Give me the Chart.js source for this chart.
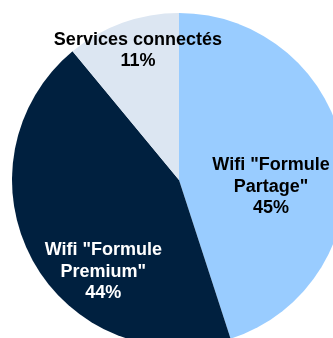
<!DOCTYPE html>
<html>
<head>
<meta charset="utf-8">
<script src="https://cdn.jsdelivr.net/npm/chart.js@4"></script>
<style>
    html, body { margin: 0; padding: 0; background: #fff; overflow: hidden; }
    #wrap { position: absolute; left: 0; top: 0; width: 358px; height: 360px; }
</style>
</head>
<body>
<div id="wrap"><canvas id="pieChart" width="358" height="360"></canvas></div>
<script>
    // Data
    const labels = ['Wifi "Formule Partage"', 'Wifi "Formule Premium"', 'Services connectés'];
    const labelLines = [['Wifi "Formule', 'Partage"'], ['Wifi "Formule', 'Premium"'], ['Services connectés']];
    const values = [45, 44, 11];

    // Styles
    const colors = ['#99ccff', '#00203f', '#dce6f2'];
    const textColors = ['#000000', '#ffffff', '#000000'];
    // centre of each label block (baselines), as a fraction of the radius from the pie centre
    const labelOffsets = [[0.551, 0.07], [-0.453, 0.58], [-0.246, -0.745]];

    const sliceLabels = {
        id: 'sliceLabels',
        afterDatasetsDraw(chart) {
            const ctx = chart.ctx;
            const meta = chart.getDatasetMeta(0);
            const total = values.reduce((a, b) => a + b, 0);
            ctx.save();
            ctx.font = 'bold 18px "Liberation Sans", Arial, sans-serif';
            ctx.textAlign = 'center';
            ctx.textBaseline = 'alphabetic';
            meta.data.forEach((arc, i) => {
                const r = arc.outerRadius;
                const cx = arc.x + labelOffsets[i][0] * r;
                const cy = arc.y + labelOffsets[i][1] * r;
                const lines = labelLines[i].concat([Math.round(values[i] / total * 100) + '%']);
                const lh = 21.5;
                const y0 = cy - (lines.length - 1) * lh / 2;
                ctx.fillStyle = textColors[i];
                lines.forEach((line, k) => ctx.fillText(line, cx, y0 + k * lh));
            });
            ctx.restore();
        }
    };

    new Chart(document.getElementById('pieChart').getContext('2d'), {
        type: 'pie',
        data: {
            labels: labels,
            datasets: [{
                data: values,
                backgroundColor: colors,
                borderWidth: 0
            }]
        },
        options: {
            responsive: false,
            animation: false,
            layout: { padding: { left: 12, right: 12, top: 13, bottom: 13 } },
            plugins: {
                legend: { display: false },
                tooltip: { enabled: false }
            }
        },
        plugins: [sliceLabels]
    });
</script>
</body>
</html>
